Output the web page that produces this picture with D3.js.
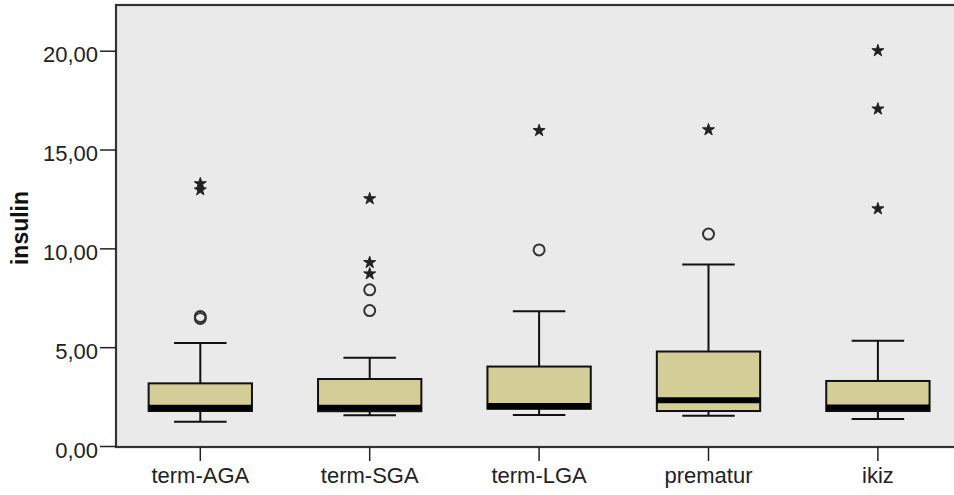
<!DOCTYPE html>
<html>
<head>
<meta charset="utf-8">
<script src="https://cdn.jsdelivr.net/npm/d3@7"></script>
<style>
  body { margin: 0; background: #fff; }
  svg { display: block; font-family: 'Liberation Sans', Arial, sans-serif; }
</style>
</head>
<body>
<svg id="chart" width="954" height="495"></svg>
<script>
// groups on the x axis
const categories = ['term-AGA', 'term-SGA', 'term-LGA', 'prematur', 'ikiz'];

// box plot statistics
const whiskerLow  = [1.23, 1.55, 1.57, 1.53, 1.37];
const q1          = [1.77, 1.76, 1.88, 1.77, 1.77];
const median      = [1.93, 1.93, 2.02, 2.32, 1.95];
const q3          = [3.17, 3.39, 4.02, 4.78, 3.29];
const whiskerHigh = [5.21, 4.46, 6.82, 9.18, 5.32];

// outliers (circles) and extreme values (stars)
const outliers = [[6.45, 6.55], [6.85, 7.9], [9.92], [10.72], []];
const extremes = [[12.96, 13.27], [8.71, 9.28, 12.51], [15.96], [16.0], [12.0, 17.05, 20.0]];

const yTicks = [0, 5, 10, 15, 20];
const yLabel = 'insulin';

const svg = d3.select('#chart');
const plotLeft = 116, plotTop = 5, plotBottom = 447, plotRight = 962.6;

const x = d3.scaleBand()
  .domain(categories)
  .range([115.6, plotRight])
  .padding(0);

const y = d3.scaleLinear()
  .domain([0, 20])
  .range([446, 50.7]);

const boxW = x.bandwidth() * 0.61;
const capW = x.bandwidth() * 0.31;

// plot background + frame
svg.append('rect')
  .attr('x', plotLeft)
  .attr('y', plotTop)
  .attr('width', plotRight + 20 - plotLeft)
  .attr('height', plotBottom - plotTop)
  .attr('fill', '#eaeaea')
  .attr('stroke', '#333')
  .attr('stroke-width', 2.2);

const fmt = v => d3.format('.2f')(v).replace('.', ',');

// y axis
const yAxis = svg.append('g')
  .attr('transform', `translate(${plotLeft},0)`)
  .call(d3.axisLeft(y).tickValues(yTicks).tickFormat(fmt).tickSize(16).tickPadding(2));
yAxis.select('.domain').remove();
yAxis.selectAll('line').attr('stroke', '#222').attr('stroke-width', 1.5);
yAxis.selectAll('text')
  .attr('font-size', 22)
  .attr('fill', '#222')
  .attr('font-family', "'Liberation Sans', Arial, sans-serif")
  .attr('dy', '0.5em');

// x axis
const xAxis = svg.append('g')
  .attr('transform', `translate(0,${plotBottom})`)
  .call(d3.axisBottom(x).tickSize(14).tickPadding(6));
xAxis.select('.domain').remove();
xAxis.selectAll('line').attr('stroke', '#222').attr('stroke-width', 1.5);
xAxis.selectAll('text')
  .attr('font-size', 22)
  .attr('fill', '#222')
  .attr('font-family', "'Liberation Sans', Arial, sans-serif");

// y title
svg.append('text')
  .attr('transform', 'translate(28,228) rotate(-90)')
  .attr('text-anchor', 'middle')
  .attr('font-size', 23)
  .attr('font-weight', 'bold')
  .attr('fill', '#111')
  .text(yLabel);

// boxes
const boxes = svg.append('g')
  .selectAll('g')
  .data(categories)
  .enter()
  .append('g')
  .attr('transform', d => `translate(${x(d) + x.bandwidth() / 2},0)`);

// whisker stems
boxes.append('line')
  .attr('y1', (d, i) => y(whiskerLow[i]))
  .attr('y2', (d, i) => y(whiskerHigh[i]))
  .attr('stroke', '#111')
  .attr('stroke-width', 2);

// whisker caps
boxes.selectAll('line.cap')
  .data((d, i) => [whiskerLow[i], whiskerHigh[i]])
  .enter()
  .append('line')
  .attr('class', 'cap')
  .attr('x1', -capW / 2)
  .attr('x2', capW / 2)
  .attr('y1', v => y(v))
  .attr('y2', v => y(v))
  .attr('stroke', '#111')
  .attr('stroke-width', 2);

// box body
boxes.append('rect')
  .attr('x', -boxW / 2)
  .attr('width', boxW)
  .attr('y', (d, i) => y(q3[i]))
  .attr('height', (d, i) => y(q1[i]) - y(q3[i]))
  .attr('fill', '#d3ce98')
  .attr('stroke', '#111')
  .attr('stroke-width', 2);

// median
boxes.append('line')
  .attr('x1', -boxW / 2)
  .attr('x2', boxW / 2)
  .attr('y1', (d, i) => y(median[i]))
  .attr('y2', (d, i) => y(median[i]))
  .attr('stroke', '#000')
  .attr('stroke-width', 6);

// outlier circles
boxes.selectAll('circle')
  .data((d, i) => outliers[i])
  .enter()
  .append('circle')
  .attr('cy', v => y(v))
  .attr('r', 5.5)
  .attr('fill', 'none')
  .attr('stroke', '#333')
  .attr('stroke-width', 2);

// extreme stars
const star = d3.symbol().type(d3.symbolStar).size(45);
boxes.selectAll('path.star')
  .data((d, i) => extremes[i])
  .enter()
  .append('path')
  .attr('class', 'star')
  .attr('d', star)
  .attr('transform', v => `translate(0,${y(v)})`)
  .attr('fill', '#222')
  .attr('stroke', '#222')
  .attr('stroke-width', 1);
</script>
</body>
</html>
